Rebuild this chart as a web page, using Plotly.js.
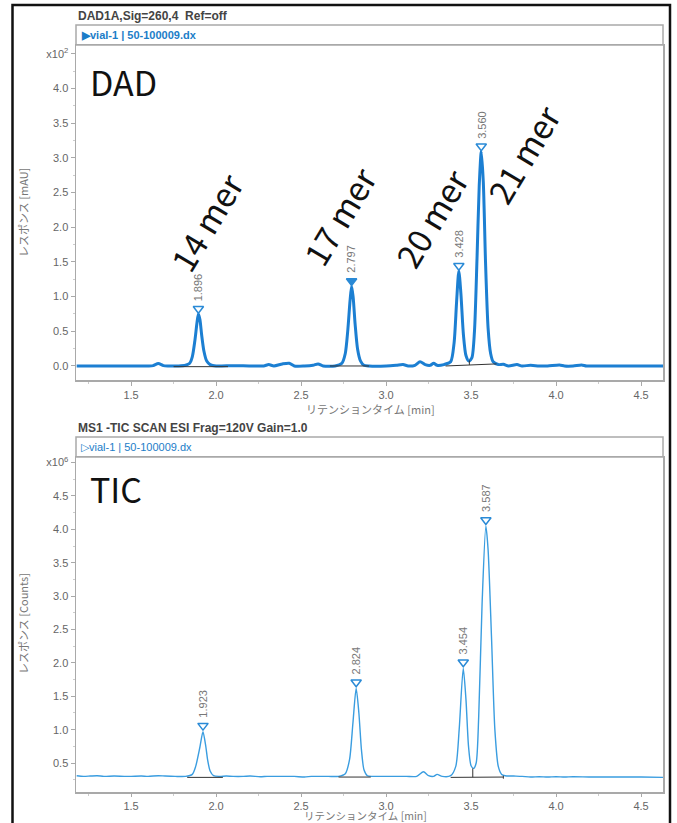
<!DOCTYPE html>
<html>
<head>
<meta charset="utf-8">
<script src="https://cdn.plot.ly/plotly-3.0.1.min.js"></script>
<style>html,body{margin:0;padding:0;background:#fff}#chart{width:677px;height:823px}</style>
</head>
<body>
<div id="chart"></div>
<script>
// ---------- DATA ----------
// DAD chromatogram (x: retention time [min], y: response x10^2 mAU)
const dadX = [1.18,1.30,1.45,1.60,1.63,1.66,1.69,1.72,1.78,1.82,1.845,1.86,1.875,1.888,1.896,1.905,1.915,1.928,1.945,1.965,2.00,2.10,2.20,2.28,2.31,2.34,2.39,2.43,2.46,2.52,2.57,2.60,2.63,2.70,2.74,2.76,2.775,2.788,2.797,2.806,2.818,2.832,2.85,2.87,2.90,3.00,3.06,3.10,3.13,3.17,3.20,3.23,3.26,3.28,3.30,3.34,3.38,3.40,3.415,3.428,3.44,3.455,3.47,3.487,3.505,3.52,3.535,3.548,3.560,3.572,3.585,3.60,3.615,3.63,3.66,3.69,3.72,3.77,3.80,3.85,3.90,3.95,4.02,4.05,4.10,4.15,4.18,4.30,4.45,4.63];
const dadY = [0.0,0.0,0.0,0.0,0.005,0.035,0.005,0.0,0.0,0.01,0.04,0.13,0.36,0.63,0.75,0.67,0.45,0.22,0.07,0.02,0.0,0.005,0.0,0.0,0.02,0.0,0.03,0.04,0.0,0.0,0.01,0.03,0.0,0.0,0.04,0.18,0.52,0.94,1.15,1.0,0.6,0.25,0.07,0.01,0.0,0.0,0.01,0.02,0.0,0.01,0.06,0.02,0.01,0.04,0.01,0.02,0.06,0.33,0.93,1.37,1.05,0.45,0.15,0.07,0.12,0.5,1.55,2.6,3.09,2.65,1.5,0.55,0.18,0.06,0.02,0.025,0.0,0.02,0.0,0.01,0.0,0.0,0.015,0.0,0.0,0.015,0.0,0.0,0.0,0.0];

// TIC chromatogram (x: retention time [min], y: response x10^6 counts)
const ticX = [1.18,1.22,1.26,1.30,1.34,1.40,1.46,1.50,1.56,1.60,1.66,1.70,1.76,1.82,1.86,1.88,1.905,1.923,1.94,1.95,1.965,1.985,2.02,2.06,2.10,2.16,2.20,2.26,2.30,2.36,2.40,2.46,2.52,2.56,2.60,2.66,2.72,2.76,2.785,2.805,2.824,2.84,2.855,2.87,2.89,2.92,2.96,3.00,3.06,3.12,3.18,3.22,3.25,3.28,3.30,3.33,3.38,3.41,3.43,3.454,3.47,3.485,3.50,3.515,3.53,3.545,3.565,3.587,3.60,3.62,3.64,3.66,3.68,3.70,3.75,3.80,3.85,3.90,3.95,4.00,4.05,4.10,4.20,4.30,4.40,4.50,4.63];
const ticY = [0.31,0.30,0.305,0.31,0.30,0.305,0.30,0.30,0.305,0.30,0.31,0.305,0.30,0.30,0.33,0.45,0.74,0.97,0.74,0.55,0.38,0.31,0.30,0.305,0.30,0.30,0.305,0.295,0.30,0.30,0.30,0.30,0.29,0.30,0.30,0.30,0.30,0.34,0.55,1.1,1.62,1.25,0.7,0.4,0.31,0.30,0.30,0.30,0.30,0.30,0.30,0.37,0.31,0.30,0.33,0.30,0.31,0.45,1.0,1.92,1.45,0.75,0.46,0.42,0.5,1.2,2.9,4.05,3.7,2.4,1.0,0.45,0.33,0.31,0.305,0.30,0.29,0.295,0.29,0.295,0.29,0.295,0.29,0.29,0.29,0.29,0.285];

// integration baselines (null separates segments)
const dadBaseX = [1.75,2.07,null,2.67,2.90,null,3.35,3.65,null,3.49,3.49];
const dadBaseY = [-0.01,-0.01,null,0.0,0.0,null,0.0,0.03,null,0.015,0.08];
const ticBaseX = [1.83,2.04,null,2.72,2.91,null,3.38,3.69,null,3.51,3.51,null,3.69,3.69];
const ticBaseY = [0.285,0.285,null,0.29,0.29,null,0.285,0.29,null,0.287,0.42,null,0.265,0.31];

// peak markers
const dadPeakRT = [1.896, 2.797, 3.428, 3.560];
const dadPeakH = [0.75, 1.15, 1.37, 3.09];
const dadPeakLabels = ['1.896', '2.797', '3.428', '3.560'];
const ticPeakRT = [1.923, 2.824, 3.454, 3.587];
const ticPeakH = [0.97, 1.62, 1.92, 4.05];
const ticPeakLabels = ['1.923', '2.824', '3.454', '3.587'];

// compound names
const merNames = ['14 mer', '17 mer', '20 mer', '21 mer'];

// ticks
const xTickVals = [1.5, 2.0, 2.5, 3.0, 3.5, 4.0, 4.5];
const xTickText = ['1.5', '2.0', '2.5', '3.0', '3.5', '4.0', '4.5'];
const dadTickVals = [0.0, 0.5, 1.0, 1.5, 2.0, 2.5, 3.0, 3.5, 4.0, 4.5];
const dadTickText = ['0.0', '0.5', '1.0', '1.5', '2.0', '2.5', '3.0', '3.5', '4.0', 'x10<sup>2</sup>'];
const ticTickVals = [0.5, 1.0, 1.5, 2.0, 2.5, 3.0, 3.5, 4.0, 4.5, 5.0];
const ticTickText = ['0.5', '1.0', '1.5', '2.0', '2.5', '3.0', '3.5', '4.0', '4.5', 'x10<sup>6</sup>'];

// ---------- STYLE / LAYOUT ----------
const W = 677, H = 823;
const px = v => v / W;
const py = v => 1 - v / H;
const tickFont = {family: 'Liberation Sans, Arial, sans-serif', size: 11, color: '#666'};
const axisGray = '#a9a9a9';

const traces = [
  {x: dadX, y: dadY, xaxis: 'x', yaxis: 'y', mode: 'lines', line: {color: '#1c7fd2', width: 3, shape: 'spline', smoothing: 0.7}, hoverinfo: 'skip'},
  {x: dadBaseX, y: dadBaseY, xaxis: 'x', yaxis: 'y', mode: 'lines', line: {color: '#333', width: 1}, hoverinfo: 'skip'},
  {x: dadPeakRT, y: dadPeakH.map(v => v + 0.075), xaxis: 'x', yaxis: 'y', mode: 'markers',
   marker: {symbol: ['triangle-down-open', 'triangle-down', 'triangle-down-open', 'triangle-down-open'], size: 9, color: '#2a8ad6', line: {color: '#2a8ad6', width: 1.5}}, hoverinfo: 'skip'},
  {x: ticX, y: ticY, xaxis: 'x2', yaxis: 'y2', mode: 'lines', line: {color: '#3a9de0', width: 1.4, shape: 'spline', smoothing: 0.7}, hoverinfo: 'skip'},
  {x: ticBaseX, y: ticBaseY, xaxis: 'x2', yaxis: 'y2', mode: 'lines', line: {color: '#333', width: 1}, hoverinfo: 'skip'},
  {x: ticPeakRT, y: ticPeakH.map(v => v + 0.09), xaxis: 'x2', yaxis: 'y2', mode: 'markers',
   marker: {symbol: 'triangle-down-open', size: 9, color: '#2a8ad6', line: {color: '#2a8ad6', width: 1.5}}, hoverinfo: 'skip'}
];

const xCommon = {
  range: [1.176, 4.629], domain: [px(76), px(663)], tickmode: 'array', tickvals: xTickVals, ticktext: xTickText,
  showline: true, mirror: true, linecolor: axisGray, linewidth: 1.5, ticks: 'outside', ticklen: 4, tickcolor: axisGray,
  tickfont: tickFont, showgrid: false, zeroline: false, fixedrange: true,
  minor: {tickmode: 'linear', tick0: 0, dtick: 0.25, ticks: 'outside', ticklen: 2, tickcolor: '#ccc'}
};
const yCommon = {
  showline: true, mirror: true, linecolor: axisGray, linewidth: 1.5, ticks: 'outside', ticklen: 4, tickcolor: axisGray,
  tickfont: tickFont, showgrid: false, zeroline: false, fixedrange: true, tickmode: 'array'
};

const annotations = [];
// headers
annotations.push({xref: 'paper', yref: 'paper', x: px(76), y: py(16), xanchor: 'left', yanchor: 'middle', showarrow: false,
  text: '<b>DAD1A,Sig=260,4  Ref=off</b>', font: {family: 'Liberation Sans, Arial', size: 12, color: '#444'}});
annotations.push({xref: 'paper', yref: 'paper', x: px(79), y: py(35.5), xanchor: 'left', yanchor: 'middle', showarrow: false,
  text: '<b>▶vial-1 | 50-100009.dx</b>', font: {family: 'Liberation Sans, Arial', size: 11, color: '#1c7dc8'}});
annotations.push({xref: 'paper', yref: 'paper', x: px(76), y: py(428), xanchor: 'left', yanchor: 'middle', showarrow: false,
  text: '<b>MS1 -TIC SCAN ESI Frag=120V Gain=1.0</b>', font: {family: 'Liberation Sans, Arial', size: 12, color: '#444'}});
annotations.push({xref: 'paper', yref: 'paper', x: px(79), y: py(447), xanchor: 'left', yanchor: 'middle', showarrow: false,
  text: '▷vial-1 | 50-100009.dx', font: {family: 'Liberation Sans, Arial', size: 11, color: '#1c7dc8'}});
// axis titles
annotations.push({xref: 'paper', yref: 'paper', x: px(23), y: py(213), textangle: -90, showarrow: false, xanchor: 'center', yanchor: 'middle',
  text: 'レスポンス [mAU]', font: {family: 'Noto Sans CJK JP', size: 11, color: '#777'}});
annotations.push({xref: 'paper', yref: 'paper', x: px(23), y: py(624), textangle: -90, showarrow: false, xanchor: 'center', yanchor: 'middle',
  text: 'レスポンス [Counts]', font: {family: 'Noto Sans CJK JP', size: 11, color: '#777'}});
annotations.push({xref: 'paper', yref: 'paper', x: px(370), y: py(409), showarrow: false, xanchor: 'center', yanchor: 'middle',
  text: 'リテンションタイム [min]', font: {family: 'Noto Sans CJK JP', size: 11, color: '#777'}});
annotations.push({xref: 'paper', yref: 'paper', x: px(366), y: py(815.5), showarrow: false, xanchor: 'center', yanchor: 'middle',
  text: 'リテンションタイム [min]', font: {family: 'Noto Sans CJK JP', size: 10.5, color: '#777'}});
// big labels
annotations.push({xref: 'paper', yref: 'paper', x: px(88), y: py(81), xanchor: 'left', yanchor: 'middle', showarrow: false,
  text: 'DAD', font: {family: 'Noto Sans CJK JP', size: 34, color: '#111'}});
annotations.push({xref: 'paper', yref: 'paper', x: px(88), y: py(488), xanchor: 'left', yanchor: 'middle', showarrow: false,
  text: 'TIC', font: {family: 'Noto Sans CJK JP', size: 34, color: '#111'}});
const merPos = [[206, 222], [339, 216], [431, 218], [523, 154]];
merNames.forEach((t, i) => {
  annotations.push({xref: 'paper', yref: 'paper', x: px(merPos[i][0]), y: py(merPos[i][1]), xanchor: 'center', yanchor: 'middle',
    showarrow: false, textangle: -59, text: t, font: {family: 'Noto Sans CJK JP', size: 33, color: '#111'}});
});
// peak RT labels
dadPeakRT.forEach((rt, i) => {
  annotations.push({xref: 'x', yref: 'y', x: rt, y: dadPeakH[i], xanchor: 'center', yanchor: 'bottom', yshift: 11,
    showarrow: false, textangle: -90, text: dadPeakLabels[i], font: {family: 'Liberation Sans, Arial', size: 11, color: '#777'}});
});
ticPeakRT.forEach((rt, i) => {
  annotations.push({xref: 'x2', yref: 'y2', x: rt, y: ticPeakH[i], xanchor: 'center', yanchor: 'bottom', yshift: 12,
    showarrow: false, textangle: -90, text: ticPeakLabels[i], font: {family: 'Liberation Sans, Arial', size: 11, color: '#777'}});
});

const shapes = [
  {type: 'rect', xref: 'paper', yref: 'paper', x0: px(76), x1: px(663), y0: py(45), y1: py(25), line: {color: axisGray, width: 1.5}},
  {type: 'rect', xref: 'paper', yref: 'paper', x0: px(76), x1: px(663), y0: py(457), y1: py(437), line: {color: axisGray, width: 1.5}},
  {type: 'rect', xref: 'paper', yref: 'paper', x0: px(12.5), x1: px(670), y0: py(840), y1: py(5), line: {color: '#111', width: 2.5}}
];

const layout = {
  width: W, height: H, margin: {l: 0, r: 0, t: 0, b: 0}, paper_bgcolor: '#fff', plot_bgcolor: '#fff', showlegend: false,
  xaxis: Object.assign({}, xCommon, {anchor: 'y'}),
  xaxis2: Object.assign({}, xCommon, {anchor: 'y2', ticklen: 3}),
  yaxis: Object.assign({}, yCommon, {anchor: 'x', domain: [py(380), py(45)], range: [-0.202, 4.625], tickvals: dadTickVals, ticktext: dadTickText,
    minor: {tickmode: 'linear', tick0: 0, dtick: 0.25, ticks: 'outside', ticklen: 2, tickcolor: '#ccc'}}),
  yaxis2: Object.assign({}, yCommon, {anchor: 'x2', domain: [py(792), py(457)], range: [0.066, 5.084], tickvals: ticTickVals, ticktext: ticTickText,
    minor: {tickmode: 'linear', tick0: 0, dtick: 0.25, ticks: 'outside', ticklen: 2, tickcolor: '#ccc'}}),
  annotations: annotations, shapes: shapes
};

Plotly.newPlot('chart', traces, layout, {staticPlot: true, displayModeBar: false});
</script>
</body>
</html>
